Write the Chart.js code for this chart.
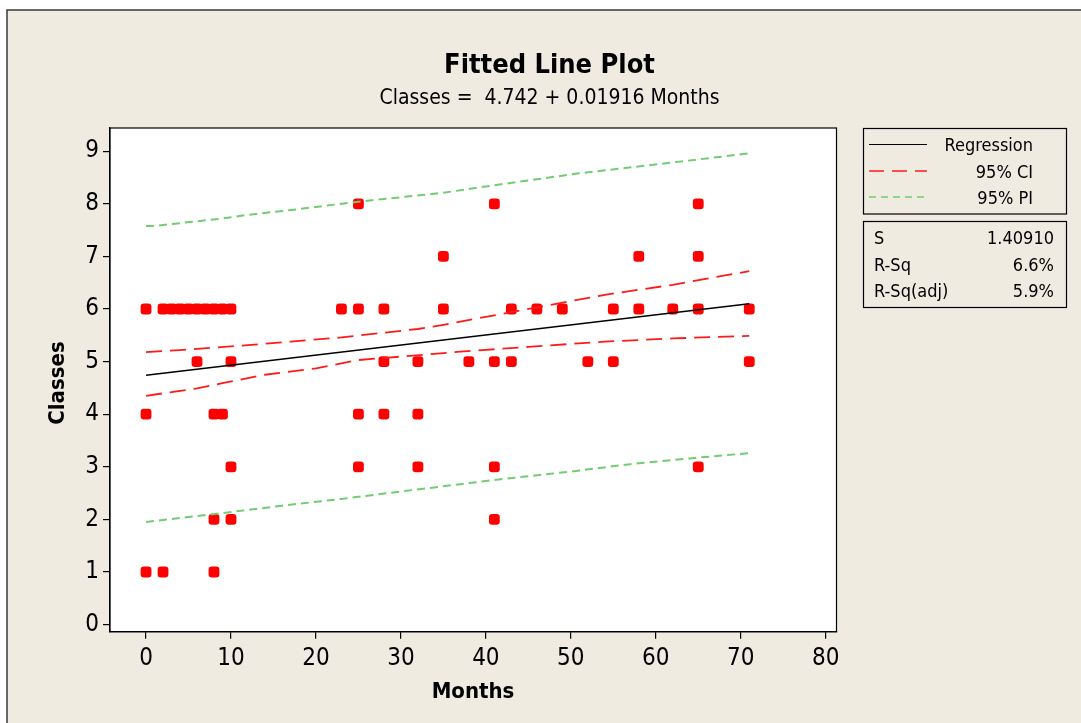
<!DOCTYPE html>
<html>
<head>
<meta charset="utf-8">
<script src="https://cdn.jsdelivr.net/npm/chart.js@4.4.1/dist/chart.umd.min.js"></script>
<style>
  html, body { margin: 0; padding: 0; background: #ffffff; }
  canvas { display: block; }
</style>
</head>
<body>
<canvas id="c" width="1081" height="723"></canvas>
<script>
// ---- Data ----
const pointMonths = [
  0, 2, 3, 4, 5, 6, 7, 8, 9, 10, 23, 25, 28, 35, 43, 46, 49, 55, 58, 62, 65, 71,
  25, 41, 65,
  35, 58, 65,
  6, 10, 28, 32, 38, 41, 43, 52, 55, 71,
  0, 8, 9, 25, 28, 32,
  10, 25, 32, 41, 65,
  8, 10, 41,
  0, 2, 8
];
const pointClasses = [
  6, 6, 6, 6, 6, 6, 6, 6, 6, 6, 6, 6, 6, 6, 6, 6, 6, 6, 6, 6, 6, 6,
  8, 8, 8,
  7, 7, 7,
  5, 5, 5, 5, 5, 5, 5, 5, 5, 5,
  4, 4, 4, 4, 4, 4,
  3, 3, 3, 3, 3,
  2, 2, 2,
  1, 1, 1
];

const regMonths = [0, 71];
const regClasses = [4.74, 6.10];

const ciUpperMonths = [0, 4, 11, 17, 23, 32, 35, 42, 54, 62, 71];
const ciUpperClasses = [5.18, 5.22, 5.30, 5.38, 5.46, 5.62, 5.70, 5.91, 6.27, 6.46, 6.72];
const ciLowerMonths = [0, 6, 9, 14, 20, 25, 35, 37, 45, 54, 62, 71];
const ciLowerClasses = [4.35, 4.49, 4.59, 4.75, 4.87, 5.03, 5.16, 5.19, 5.28, 5.38, 5.44, 5.49];

const piUpperMonths = [0, 1, 9, 12, 17, 25, 35, 40, 51, 68, 71];
const piUpperClasses = [7.58, 7.58, 7.72, 7.79, 7.88, 8.04, 8.21, 8.33, 8.58, 8.90, 8.96];
const piLowerMonths = [0, 9, 16, 23, 30, 38, 41, 50, 57, 64, 71];
const piLowerClasses = [1.95, 2.12, 2.26, 2.39, 2.53, 2.69, 2.75, 2.91, 3.05, 3.16, 3.26];

const xTickValues = [0, 10, 20, 30, 40, 50, 60, 70, 80];
const yTickValues = [0, 1, 2, 3, 4, 5, 6, 7, 8, 9];

const titleText = 'Fitted Line Plot';
const subtitleText = 'Classes =  4.742 + 0.01916 Months';
const xTitle = 'Months';
const yTitle = 'Classes';
const legendLabels = ['Regression', '95% CI', '95% PI'];
const statNames = ['S', 'R-Sq', 'R-Sq(adj)'];
const statValues = ['1.40910', '6.6%', '5.9%'];

// ---- Style ----
const FONT = "'DejaVu Sans Condensed', 'DejaVu Sans', sans-serif";
const BEIGE = '#EFEBE1';
const RED = '#FF1A1A';
const GREEN = '#72CC72';

const toXY = (xs, ys) => xs.map((x, i) => ({ x: x, y: ys[i] }));

const decor = {
  id: 'decor',
  beforeDraw(chart) {
    const ctx = chart.ctx;
    const a = chart.chartArea;
    ctx.save();
    ctx.fillStyle = '#ffffff';
    ctx.fillRect(0, 0, chart.width, chart.height);
    ctx.fillStyle = BEIGE;
    ctx.fillRect(7, 10, chart.width, chart.height);
    ctx.strokeStyle = '#3a3a3a';
    ctx.lineWidth = 1.5;
    ctx.beginPath();
    ctx.moveTo(7, chart.height + 5);
    ctx.lineTo(7, 10);
    ctx.lineTo(chart.width + 5, 10);
    ctx.stroke();
    ctx.fillStyle = '#ffffff';
    ctx.fillRect(a.left, a.top, a.right - a.left, a.bottom - a.top);
    ctx.restore();
  },
  afterDraw(chart) {
    const ctx = chart.ctx;
    const a = chart.chartArea;
    ctx.save();
    // plot frame
    ctx.strokeStyle = '#000';
    ctx.lineWidth = 1.2;
    ctx.strokeRect(a.left, a.top, a.right - a.left, a.bottom - a.top);

    // titles
    ctx.fillStyle = '#000';
    ctx.textAlign = 'center';
    ctx.textBaseline = 'alphabetic';
    ctx.font = 'bold 27px ' + FONT;
    ctx.fillText(titleText, 549.5, 73);
    ctx.font = '21px ' + FONT;
    ctx.fillText(subtitleText, 549.5, 104);
    ctx.font = 'bold 22px ' + FONT;
    ctx.fillText(xTitle, 473, 698);
    ctx.save();
    ctx.translate(64, 383);
    ctx.rotate(-Math.PI / 2);
    ctx.fillText(yTitle, 0, 0);
    ctx.restore();

    // legend box
    ctx.lineWidth = 1.2;
    ctx.strokeStyle = '#000';
    ctx.strokeRect(863.5, 128.5, 203, 85.5);
    ctx.strokeRect(863.5, 221.5, 203, 86);

    const lineY = [144.5, 171, 197];
    const styles = [
      { c: '#000', d: [], w: 1.2 },
      { c: RED, d: [15, 8], w: 1.5 },
      { c: GREEN, d: [7, 5], w: 1.5 }
    ];
    styles.forEach((s, i) => {
      ctx.beginPath();
      ctx.strokeStyle = s.c;
      ctx.lineWidth = s.w;
      ctx.setLineDash(s.d);
      ctx.moveTo(869, lineY[i]);
      ctx.lineTo(927, lineY[i]);
      ctx.stroke();
    });
    ctx.setLineDash([]);

    ctx.font = '18px ' + FONT;
    ctx.fillStyle = '#000';
    ctx.textAlign = 'right';
    const textY = [151, 178, 204];
    legendLabels.forEach((t, i) => ctx.fillText(t, 1033, textY[i]));

    const statY = [244, 270.5, 296.5];
    statNames.forEach((t, i) => {
      ctx.textAlign = 'left';
      ctx.fillText(t, 874, statY[i]);
      ctx.textAlign = 'right';
      ctx.fillText(statValues[i], 1054, statY[i]);
    });
    ctx.restore();
  }
};

new Chart(document.getElementById('c'), {
  type: 'scatter',
  data: {
    datasets: [
      {
        label: 'Regression',
        data: toXY(regMonths, regClasses),
        showLine: true, borderColor: '#000', borderWidth: 1.5,
        pointRadius: 0, fill: false, tension: 0
      },
      {
        label: '95% CI upper',
        data: toXY(ciUpperMonths, ciUpperClasses),
        showLine: true, borderColor: RED, borderWidth: 1.8, borderDash: [16, 8],
        pointRadius: 0, fill: false, tension: 0
      },
      {
        label: '95% CI lower',
        data: toXY(ciLowerMonths, ciLowerClasses),
        showLine: true, borderColor: RED, borderWidth: 1.8, borderDash: [16, 8],
        pointRadius: 0, fill: false, tension: 0
      },
      {
        label: '95% PI upper',
        data: toXY(piUpperMonths, piUpperClasses),
        showLine: true, borderColor: GREEN, borderWidth: 2, borderDash: [8, 5],
        pointRadius: 0, fill: false, tension: 0
      },
      {
        label: '95% PI lower',
        data: toXY(piLowerMonths, piLowerClasses),
        showLine: true, borderColor: GREEN, borderWidth: 2, borderDash: [8, 5],
        pointRadius: 0, fill: false, tension: 0
      },
      {
        label: 'Classes',
        data: toXY(pointMonths, pointClasses),
        showLine: false,
        pointStyle: 'rectRounded',
        pointRadius: 6.3,
        pointBackgroundColor: '#FF0000',
        pointBorderColor: '#FF0000',
        pointBorderWidth: 0
      }
    ]
  },
  options: {
    responsive: false,
    animation: false,
    devicePixelRatio: 1,
    layout: { padding: { top: 128, right: 244.5, left: 0, bottom: 0 } },
    plugins: {
      legend: { display: false },
      title: { display: false },
      tooltip: { enabled: false }
    },
    scales: {
      x: {
        type: 'linear',
        min: -4.24,
        max: 81.27,
        afterFit(scale) { scale.height = 91.3; },
        afterBuildTicks(scale) { scale.ticks = xTickValues.map(v => ({ value: v })); },
        grid: { drawOnChartArea: false, drawTicks: true, tickLength: 7, color: '#000', lineWidth: 1.2 },
        border: { display: true, color: '#000', width: 1.2 },
        ticks: {
          color: '#000',
          padding: 6,
          maxRotation: 0,
          font: { family: FONT, size: 24 },
          callback: v => String(v)
        }
      },
      y: {
        type: 'linear',
        min: -0.135,
        max: 9.441,
        afterFit(scale) { scale.width = 110; },
        afterBuildTicks(scale) { scale.ticks = yTickValues.map(v => ({ value: v })); },
        grid: { drawOnChartArea: false, drawTicks: true, tickLength: 7, color: '#000', lineWidth: 1.2 },
        border: { display: true, color: '#000', width: 1.2 },
        ticks: {
          color: '#000',
          padding: 4,
          font: { family: FONT, size: 24 },
          callback: v => String(v)
        }
      }
    }
  },
  plugins: [decor]
});
</script>
</body>
</html>
